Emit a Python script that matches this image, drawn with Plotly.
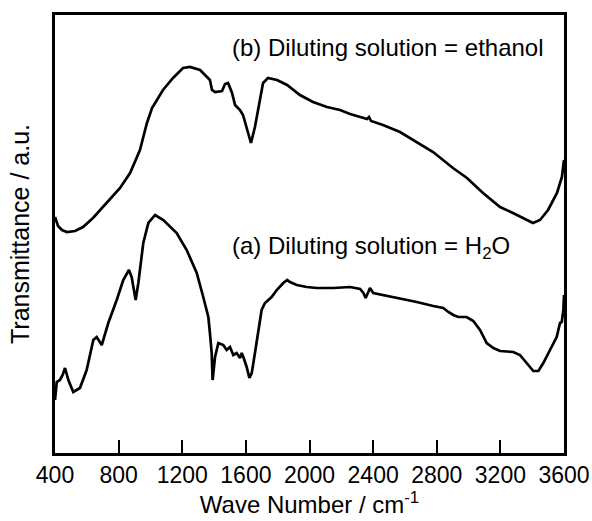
import plotly.graph_objects as go

# Curve (b): diluting solution = ethanol
wn_b = [400, 419, 444, 475, 526, 576, 639, 727, 809, 872, 934, 978, 1010, 1079, 1142, 1205, 1249,
        1312, 1356, 1374, 1387, 1406, 1450, 1469, 1488, 1513, 1532, 1563, 1582, 1607, 1632, 1657,
        1689, 1708, 1739, 1796, 1859, 1940, 2022, 2110, 2192, 2255, 2362, 2374, 2387, 2462, 2569,
        2676, 2777, 2902, 2990, 3091, 3198, 3279, 3342, 3405, 3449, 3500, 3556, 3587, 3600]
t_b = [236, 227, 223, 221, 222, 226, 235, 250, 265, 280, 303, 330, 345, 363, 375, 385, 386,
       383, 376, 373, 363, 361, 362, 369, 370, 360, 348, 343, 338, 323, 310, 326,
       356, 370, 375, 373, 368, 358, 351, 346, 343, 339, 334, 336, 332, 328, 321,
       311, 301, 285, 275, 260, 246, 240, 235, 230, 233, 243, 260, 276, 293]

# Curve (a): diluting solution = H2O
wn_a = [400, 411, 431, 448, 463, 484, 515, 557, 599, 641, 662, 694, 735, 788, 829, 865, 882, 907,
        924, 955, 987, 1029, 1081, 1144, 1165, 1228, 1291, 1332, 1364, 1374, 1385, 1391, 1406,
        1427, 1458, 1479, 1500, 1521, 1542, 1563, 1574, 1584, 1605, 1622, 1637, 1657, 1678, 1699,
        1720, 1741, 1762, 1794, 1835, 1860, 1877, 1920, 1982, 2045, 2108, 2150, 2255, 2318, 2339,
        2353, 2370, 2380, 2401, 2464, 2569, 2674, 2778, 2841, 2873, 2904, 2936, 2988, 3030, 3072,
        3114, 3156, 3198, 3281, 3323, 3366, 3407, 3439, 3470, 3512, 3554, 3575, 3586, 3596, 3600]
t_a = [53, 71, 73, 78, 85, 73, 61, 65, 83, 113, 116, 108, 130, 153, 173, 183, 176, 153,
       170, 210, 230, 238, 233, 223, 220, 203, 180, 156, 136, 120, 100, 73, 96,
       110, 108, 103, 106, 98, 100, 95, 100, 96, 86, 75, 80, 100, 120, 143,
       150, 153, 156, 163, 170, 173, 171, 168, 166, 165, 165, 165, 166, 164, 160,
       155, 161, 165, 160, 158, 155, 151, 147, 145, 141, 138, 136, 136, 132, 123,
       110, 105, 102, 101, 98, 90, 82, 82, 90, 103, 116, 130, 131, 143, 158]

x_ticks = [400, 800, 1200, 1600, 2000, 2400, 2800, 3200, 3600]
label_b = "(b) Diluting solution = ethanol"
label_a = "(a) Diluting solution = H<sub>2</sub>O"

FONT = "Liberation Sans, Arial, sans-serif"
line_style = dict(color="black", width=2.7)

fig = go.Figure()
fig.add_trace(go.Scatter(x=wn_b, y=t_b, mode="lines", line=line_style, showlegend=False))
fig.add_trace(go.Scatter(x=wn_a, y=t_a, mode="lines", line=line_style, showlegend=False))

fig.add_annotation(x=1500, y=406, xref="x", yref="y", text=label_b, showarrow=False,
                   xanchor="left", yanchor="middle", font=dict(size=24, color="black", family=FONT))
fig.add_annotation(x=1500, y=206, xref="x", yref="y", text=label_a, showarrow=False,
                   xanchor="left", yanchor="middle", font=dict(size=24, color="black", family=FONT))

fig.update_layout(
    width=592, height=521,
    margin=dict(l=55, r=28, t=15, b=68),
    paper_bgcolor="white", plot_bgcolor="white",
    font=dict(family=FONT, size=23, color="black"),
    xaxis=dict(range=[400, 3600], tickvals=x_ticks, ticktext=[str(v) for v in x_ticks],
               ticks="inside", ticklen=13, tickwidth=2, tickcolor="black",
               tickfont=dict(size=23, family=FONT),
               showline=True, linewidth=2.5, linecolor="black", mirror=True,
               showgrid=False, zeroline=False, automargin=False,
               title=dict(text="Wave Number / cm<sup>-1</sup>", standoff=6,
                          font=dict(size=24, family=FONT))),
    yaxis=dict(range=[0, 438], showticklabels=False, ticks="",
               showline=True, linewidth=2.5, linecolor="black", mirror=True,
               showgrid=False, zeroline=False, automargin=False,
               title=dict(text="Transmittance / a.u.", standoff=16,
                          font=dict(size=25, family=FONT))),
)

fig.write_html("out.html")
